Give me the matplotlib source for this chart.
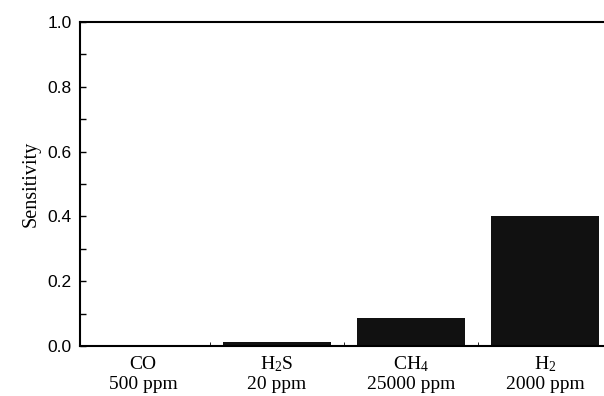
import matplotlib
matplotlib.use('Agg')
import matplotlib.pyplot as plt
import matplotlib.transforms as mtransforms
import numpy as np

# gases, concentrations and sensitivity
gases = ['CO', 'H$_2$S', 'CH$_4$', 'H$_2$']
concs = ['500 ppm', '20 ppm', '25000 ppm', '2000 ppm']
sensitivity = [0.0, 0.013, 0.086, 0.40]

plt.rcParams['mathtext.fontset'] = 'custom'
plt.rcParams['mathtext.rm'] = 'Liberation Serif'
plt.rcParams['mathtext.it'] = 'Liberation Serif:italic'

fig = plt.figure(figsize=(6.04, 3.96), dpi=100)
ax = fig.add_axes([80/604, 1-346/396, 524/604, 324/396])

x = np.arange(len(gases))
ax.bar(x, sensitivity, width=0.8, color='#111111')

ax.set_xlim(-0.47, 3.44)
ax.set_ylim(0, 1.0)

ax.set_yticks(np.arange(0, 1.01, 0.2))
ax.set_yticklabels(['%.1f' % v for v in np.arange(0, 1.01, 0.2)],
                   fontfamily='Liberation Sans', fontsize=12.5)
ax.set_yticks(np.arange(0.1, 1.0, 0.2), minor=True)
ax.tick_params(axis='y', which='both', direction='in', length=4, width=1, pad=6)

# category labels drawn as text so that all lines sit on the same baseline
ax.set_xticks(x)
ax.set_xticklabels([])
ax.set_xticks(x[:-1] + 0.5, minor=True)
ax.tick_params(axis='x', which='major', length=0)
ax.tick_params(axis='x', which='minor', direction='in', length=3)
trans = mtransforms.blended_transform_factory(ax.transData, ax.transAxes)
for xi, g, c in zip(x, gases, concs):
    ax.text(xi, -0.071, g, transform=trans, ha='center', va='baseline',
            fontfamily='Liberation Serif', fontsize=14)
    ax.text(xi, -0.134, c, transform=trans, ha='center', va='baseline',
            fontfamily='Liberation Serif', fontsize=14)

ax.set_ylabel('Sensitivity', fontfamily='Liberation Serif', fontsize=14.5, labelpad=5)

ax.spines['right'].set_visible(False)
for s in ['top', 'left', 'bottom']:
    ax.spines[s].set_linewidth(1.5)

fig.savefig('out.png', dpi=100)
